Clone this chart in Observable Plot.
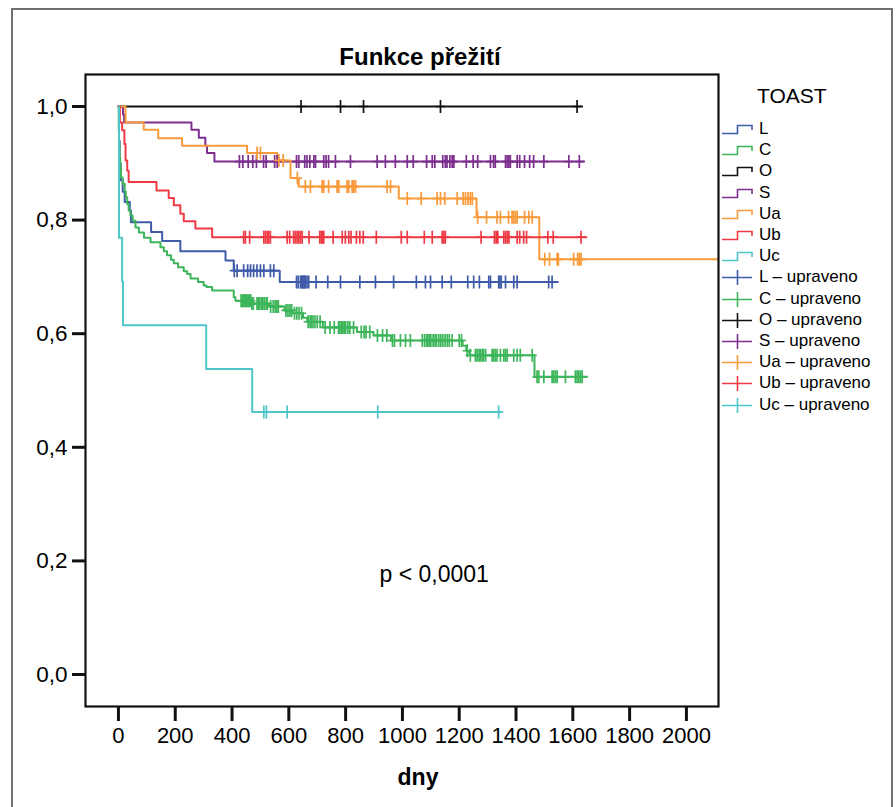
<!DOCTYPE html>
<html><head><meta charset="utf-8">
<script src="https://cdn.jsdelivr.net/npm/d3@7"></script>
<script src="https://cdn.jsdelivr.net/npm/@observablehq/plot@0.6"></script>
<style>
body{margin:0;background:#fff;font-family:"Liberation Sans",Arial,sans-serif;color:#000;}
#wrap{position:relative;width:896px;height:807px;overflow:hidden;background:#fff;}
#outer{position:absolute;left:11px;top:8px;width:882px;height:830px;border:2px solid #707070;box-sizing:border-box;}
#chart{position:absolute;left:0;top:0;}
#title{position:absolute;left:0;width:840px;top:43px;text-align:center;font-weight:bold;font-size:24px;}
#xlabel{position:absolute;left:0;width:836px;top:764px;text-align:center;font-weight:bold;font-size:23px;}
#legend{position:absolute;left:722px;top:84px;}
#legend .hd{position:absolute;left:35px;top:0;font-size:21px;white-space:nowrap;}
#legend .row{position:absolute;left:0;height:20px;display:flex;align-items:center;font-size:17px;white-space:nowrap;}
#legend svg{display:block;margin-right:6px;}
</style></head>
<body>
<div id="wrap">
  <div id="outer"></div>
  <div id="chart"></div>
  <div id="title">Funkce přežití</div>
  <div id="xlabel">dny</div>
  <div id="legend"></div>
</div>
<script>
// ---- data (days, cumulative survival) ----
const groups = ["L", "C", "O", "S", "Ua", "Ub", "Uc"];
const colors = ["#3f5ba9", "#3db55a", "#111111", "#7c2f8e", "#f99a3b", "#ee3a44", "#4fc6c8"];
const legendTitle = "TOAST";
const censoredSuffix = " – upraveno";
const xTicks = [0, 200, 400, 600, 800, 1000, 1200, 1400, 1600, 1800, 2000];
const yTicks = [0, 0.2, 0.4, 0.6, 0.8, 1.0];
const pText = "p < 0,0001";

const stepsL = [[0,1],[2,0.94],[4,0.9],[8,0.87],[15,0.85],[22,0.832],[40,0.817],[44,0.796],[115,0.779],[154,0.763],[218,0.745],[377,0.729],[406,0.711],[568,0.691]];
const endL = 1547;
const censorL = [408,418,441,455,465,476,488,500,512,535,547,627,633,641,645,647,650,653,656,658,664,670,696,737,782,850,905,969,1049,1081,1099,1140,1172,1230,1251,1271,1304,1310,1339,1343,1348,1363,1392,1404,1515,1527];

const stepsC = [[0,1],[1,0.96],[2,0.935],[4,0.91],[6,0.89],[9,0.875],[15,0.864],[22,0.85],[26,0.84],[31,0.828],[36,0.817],[42,0.808],[50,0.799],[60,0.787],[72,0.778],[90,0.769],[113,0.761],[148,0.752],[160,0.745],[171,0.738],[185,0.73],[195,0.724],[210,0.717],[230,0.71],[242,0.705],[254,0.697],[280,0.691],[300,0.685],[310,0.682],[330,0.676],[406,0.664],[412,0.658],[470,0.653],[530,0.648],[585,0.641],[612,0.636],[650,0.628],[665,0.621],[720,0.611],[840,0.603],[898,0.597],[960,0.588],[1212,0.579],[1225,0.57],[1236,0.562],[1465,0.524]];
const endC = 1650;
const censorC = [432,436,440,443,446,450,453,458,462,466,470,475,488,492,497,503,508,513,520,524,536,545,552,558,563,590,597,604,610,620,628,636,645,668,675,680,685,692,700,710,728,745,760,775,780,785,790,795,800,808,815,828,855,865,872,885,912,930,945,965,972,993,1011,1028,1070,1078,1085,1090,1095,1100,1108,1115,1120,1128,1135,1142,1150,1158,1165,1175,1200,1208,1228,1239,1257,1263,1270,1275,1281,1286,1293,1316,1321,1327,1333,1345,1357,1363,1369,1392,1404,1415,1457,1474,1480,1498,1527,1533,1539,1545,1574,1609,1615,1621,1627,1633];

const stepsO = [[0,1]];
const endO = 1633;
const censorO = [643,782,863,1134,1615];

const stepsS = [[0,1],[16,0.986],[20,0.972],[257,0.959],[283,0.945],[306,0.931],[312,0.918],[338,0.903]];
const endS = 1640;
const censorS = [426,438,457,473,486,511,520,550,559,627,635,656,664,674,688,694,723,731,740,764,817,911,940,975,1017,1038,1085,1105,1114,1142,1151,1157,1167,1175,1181,1225,1249,1265,1310,1321,1327,1363,1369,1375,1380,1404,1413,1430,1448,1462,1498,1586,1623];

const stepsUa = [[0,1],[25,0.972],[89,0.959],[140,0.944],[224,0.931],[453,0.918],[559,0.905],[606,0.874],[635,0.859],[987,0.838],[1261,0.805],[1482,0.731]];
const endUa = 2300;
const censorUa = [488,500,565,580,630,658,676,717,723,740,770,776,805,811,823,829,835,946,958,1017,1066,1122,1134,1149,1193,1214,1222,1231,1239,1246,1265,1296,1333,1345,1374,1386,1392,1398,1404,1430,1445,1457,1501,1518,1545,1549,1603,1617,1623,1629];

const stepsUb = [[0,1],[5,0.972],[13,0.958],[21,0.934],[25,0.905],[31,0.887],[36,0.867],[134,0.852],[177,0.839],[195,0.826],[218,0.811],[230,0.798],[271,0.785],[330,0.770]];
const endUb = 1648;
const censorUb = [441,447,462,512,518,524,529,535,594,603,617,623,629,635,641,647,671,709,714,718,723,756,788,799,811,819,838,850,862,908,996,1017,1077,1105,1140,1146,1151,1277,1324,1330,1336,1357,1363,1369,1375,1404,1413,1427,1437,1512,1531,1629];

const stepsUc = [[0,1],[2,0.769],[13,0.692],[16,0.615],[309,0.538],[471,0.462]];
const endUc = 1345;
const censorUc = [512,521,594,913,1339];

// ---- build tables ----
const series = [
  {g:"L", steps:stepsL, end:endL, cens:censorL},
  {g:"C", steps:stepsC, end:endC, cens:censorC},
  {g:"O", steps:stepsO, end:endO, cens:censorO},
  {g:"S", steps:stepsS, end:endS, cens:censorS},
  {g:"Ua", steps:stepsUa, end:endUa, cens:censorUa},
  {g:"Ub", steps:stepsUb, end:endUb, cens:censorUb},
  {g:"Uc", steps:stepsUc, end:endUc, cens:censorUc}
];
function survAt(steps, t){ let s = 1; for (const [d,v] of steps) if (d <= t) s = v; return s; }
const lineRows = [], censRows = [];
for (const S of series) {
  for (const [t,s] of S.steps) lineRows.push({g:S.g, t, s});
  lineRows.push({g:S.g, t:S.end, s:S.steps[S.steps.length-1][1]});
  for (const t of S.cens) censRows.push({g:S.g, t, s:survAt(S.steps, t)});
}
const tickSym = {draw(ctx, size){ const r = Math.sqrt(size/Math.PI); ctx.moveTo(0,-r); ctx.lineTo(0,r); ctx.moveTo(-r*0.7,0); ctx.lineTo(r*0.7,0); }};
const fmt = d => d.toFixed(1).replace(".", ",");

const chart = Plot.plot({
  width: 896, height: 807,
  marginLeft: 85, marginRight: 178, marginTop: 74, marginBottom: 101,
  style: {fontFamily: '"Liberation Sans", Arial, sans-serif', background: "transparent", color: "#000"},
  x: {domain: [-116, 2113]},
  y: {domain: [-0.0563, 1.0563]},
  color: {domain: groups, range: colors},
  marks: [
    Plot.line(lineRows, {x:"t", y:"s", z:"g", stroke:"g", curve:"step-after", strokeWidth:2, clip:true}),
    Plot.dot(censRows, {x:"t", y:"s", stroke:"g", symbol: tickSym, r:6.5, strokeWidth:1.7, clip:true}),
    Plot.text([pText], {x: 1112, y: 0.176, text: d => d, fontSize: 23, fill: "#000"}),
    Plot.frame({stroke:"#111", strokeWidth:2.2}),
    Plot.axisX({ticks: xTicks, tickSize: 15, tickPadding: 6, strokeWidth: 3, fontSize: 22, label: null, tickFormat: d => String(d), stroke:"#111", fill:"#000"}),
    Plot.axisY({ticks: yTicks, tickSize: 13, tickPadding: 5, strokeWidth: 3, fontSize: 22.5, label: null, tickFormat: fmt, stroke:"#111", fill:"#000"})
  ]
});
document.getElementById("chart").appendChild(chart);

// ---- legend ----
const leg = document.getElementById("legend");
const hd = document.createElement("div"); hd.className = "hd"; hd.textContent = legendTitle; leg.appendChild(hd);
const ns = "http://www.w3.org/2000/svg";
const labels = groups.map(g => ({g, text:g, kind:"step"})).concat(groups.map(g => ({g, text:g + censoredSuffix, kind:"plus"})));
labels.forEach((L, i) => {
  const row = document.createElement("div"); row.className = "row";
  row.style.top = (35 + i*21.2) + "px";
  const svg = document.createElementNS(ns, "svg"); svg.setAttribute("width", 31); svg.setAttribute("height", 18);
  const p = document.createElementNS(ns, "path");
  p.setAttribute("d", L.kind === "step" ? "M0,13.5 H15.5 V5.5 H30 V10" : "M0,9.5 H30 M15.5,2 V17");
  p.setAttribute("fill", "none"); p.setAttribute("stroke", colors[groups.indexOf(L.g)]); p.setAttribute("stroke-width", 1.6);
  svg.appendChild(p); row.appendChild(svg);
  const sp = document.createElement("span"); sp.textContent = L.text; row.appendChild(sp);
  leg.appendChild(row);
});
</script>
</body></html>
